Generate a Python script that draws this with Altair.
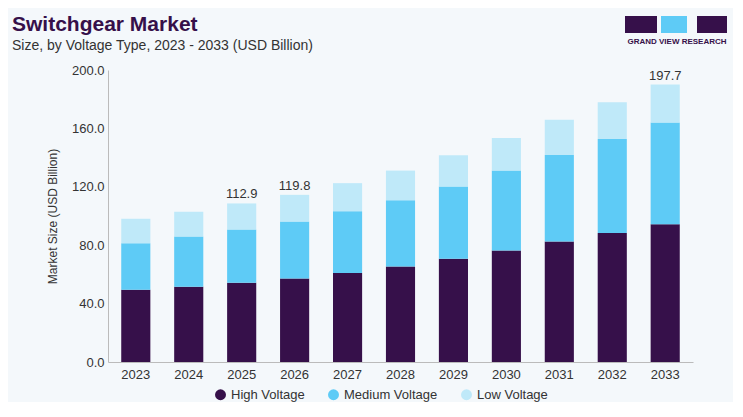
import altair as alt
import pandas as pd

years = [str(y) for y in range(2023, 2034)]
high = [49.5, 51.5, 54.3, 57.2, 60.9, 65.4, 70.7, 76.4, 82.6, 88.3, 94.4]
medium = [31.9, 34.5, 36.5, 39.0, 42.4, 45.4, 49.5, 54.7, 59.2, 64.5, 69.6]
low = [16.7, 16.9, 17.8, 18.3, 19.2, 20.3, 21.4, 22.4, 24.2, 25.1, 26.0]
segments = ["High Voltage", "Medium Voltage", "Low Voltage"]
label_years = ["2025", "2026", "2033"]
label_texts = ["112.9", "119.8", "197.7"]

rows = []
for i, y in enumerate(years):
    for s, v in zip(segments, [high[i], medium[i], low[i]]):
        rows.append({"year": y, "segment": s, "value": v, "order": segments.index(s)})
df = pd.DataFrame(rows)
tot = {y: high[i] + medium[i] + low[i] for i, y in enumerate(years)}
lab = pd.DataFrame({"year": label_years, "text": label_texts,
                    "total": [tot[y] for y in label_years]})

FONT = "Liberation Sans"
xenc = alt.X("year:N", sort=years, title=None,
             scale=alt.Scale(paddingInner=0.45, paddingOuter=0.25),
             axis=alt.Axis(labelAngle=0, labelFontSize=13, labelColor="#333",
                           ticks=False, domainColor="#bbb", labelPadding=6))

bars = alt.Chart(df).mark_bar().encode(
    x=xenc,
    y=alt.Y("value:Q", stack="zero", title="Market Size (USD Billion)",
            scale=alt.Scale(domain=[0, 200]),
            axis=alt.Axis(values=[0, 40, 80, 120, 160, 200], format=".1f",
                          grid=False, ticks=False, domainColor="#bbb",
                          labelFontSize=13, labelColor="#333", titleFontSize=12,
                          titleColor="#333", titleFontWeight="normal", labelPadding=4,
                          titlePadding=12)),
    color=alt.Color("segment:N", sort=segments,
                    scale=alt.Scale(domain=segments, range=["#36104a", "#5ecbf6", "#bfe9f9"]),
                    legend=alt.Legend(orient="none", legendX=106, legendY=318,
                                      direction="horizontal", title=None,
                                      symbolType="circle", symbolSize=120,
                                      labelFontSize=13, labelColor="#333",
                                      columnPadding=22, labelFont=FONT)),
    order=alt.Order("order:Q"),
)

labels = alt.Chart(lab).mark_text(dy=-9, fontSize=13, color="#333", font=FONT).encode(
    x=alt.X("year:N", sort=years), y="total:Q", text="text:N")

hdr = pd.DataFrame({"t": ["Switchgear Market"]})
title = alt.Chart(hdr).mark_text(align="left", fontSize=21, fontWeight="bold",
                                 color="#36104a", font=FONT).encode(
    x=alt.value(-96), y=alt.value(-45), text="t:N")
sub = alt.Chart(pd.DataFrame({"t": ["Size, by Voltage Type, 2023 - 2033 (USD Billion)"]})).mark_text(
    align="left", fontSize=14, color="#333", font=FONT).encode(
    x=alt.value(-96), y=alt.value(-24), text="t:N")
logo = alt.Chart(pd.DataFrame({"t": ["GRAND VIEW RESEARCH"]})).mark_text(
    align="center", fontSize=8, fontWeight="bold", color="#36104a", font=FONT).encode(
    x=alt.value(569), y=alt.value(-28), text="t:N")
logo_boxes = alt.Chart(pd.DataFrame({"a": [517, 553, 589], "b": [549, 579, 619],
                                     "c": ["#36104a", "#5ecbf6", "#36104a"]})).mark_rect().encode(
    x=alt.X("a:Q", scale=None), x2=alt.X2("b:Q"), y=alt.value(-54), y2=alt.value(-37),
    color=alt.Color("c:N", scale=None))
stripe = alt.Chart(pd.DataFrame({"t": [1]})).mark_rule(color="#5ecbf6", strokeWidth=3).encode(
    x=alt.value(-110), x2=alt.value(650), y=alt.value(-69))

chart = alt.layer(bars, labels, title, sub, logo_boxes, logo, stripe).properties(
    width=585, height=292, background="#f4f8fb",
    padding={"left": 100, "top": 62, "right": 40, "bottom": 40},
    autosize=alt.AutoSizeParams(type="none"),
).configure_view(stroke=None).configure_axis(labelFont=FONT, titleFont=FONT)

chart.save("out.html", embed_options={"renderer": "svg", "actions": False})
